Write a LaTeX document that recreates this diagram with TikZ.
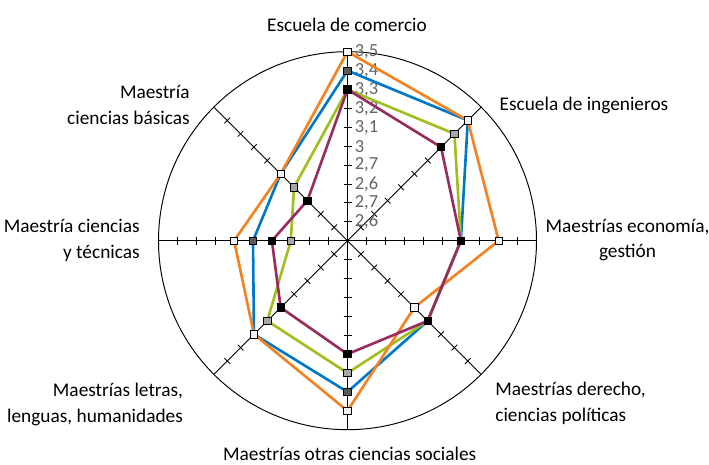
\documentclass[tikz,border=0pt]{standalone}
\usepackage{fontspec}
\setmainfont{Carlito}

\definecolor{serblue}{RGB}{0,120,200}
\definecolor{sergreen}{RGB}{158,192,30}
\definecolor{serorange}{RGB}{245,130,32}
\definecolor{serpurple}{RGB}{152,44,94}
\definecolor{valgray}{RGB}{100,100,100}
\definecolor{mkdark}{RGB}{90,90,90}
\definecolor{mkmid}{RGB}{166,166,166}
\definecolor{mklight}{RGB}{242,242,242}

\newcommand{\tk}{18.9}

\tikzset{
  axisline/.style={black,line width=0.55pt},
  tickmark/.style={black,line width=0.5pt},
  serline/.style={line width=1.5pt,line join=miter},
  mk/.style={draw=black,line width=0.4pt,shape=rectangle,minimum size=4.2pt,inner sep=0pt},
  vallabel/.style={anchor=west,text=valgray,font=\fontsize{10.5}{12}\selectfont,inner sep=0pt},
  catlabel/.style={font=\fontsize{11}{14.6}\selectfont,inner sep=0pt}
}

\begin{document}
\begin{tikzpicture}[x=0.02cm,y=0.02cm]
  \useasboundingbox (-347.5,-223.3) rectangle (361.5,240.7);

  % Specification of the axes (ends on the circle)
  \coordinate (c) at (0,0);
  \coordinate (a0) at (90:10*\tk);
  \coordinate (a1) at (45:10*\tk);
  \coordinate (a2) at (0:10*\tk);
  \coordinate (a3) at (-45:10*\tk);
  \coordinate (a4) at (-90:10*\tk);
  \coordinate (a5) at (-135:10*\tk);
  \coordinate (a6) at (180:10*\tk);
  \coordinate (a7) at (135:10*\tk);

  \draw[axisline] (c) circle (10*\tk);
  \draw[axisline] (a0) -- (a4);
  \draw[axisline] (a1) -- (a5);
  \draw[axisline] (a2) -- (a6);
  \draw[axisline] (a3) -- (a7);

  \foreach \ang in {0,45,...,315}
    \foreach \k in {1,...,9}
      \draw[tickmark,rotate=\ang] (\k*\tk,-4) -- (\k*\tk,4);

  % Values along the top axis
  \node[vallabel] (v1) at (7,1*\tk) {2,6};
  \node[vallabel] (v2) at (7,2*\tk) {2,7};
  \node[vallabel] (v3) at (7,3*\tk) {2,6};
  \node[vallabel] (v4) at (7,4*\tk) {2,7};
  \node[vallabel] (v5) at (7,5*\tk) {3};
  \node[vallabel] (v6) at (7,6*\tk) {3,1};
  \node[vallabel] (v7) at (7,7*\tk) {3,2};
  \node[vallabel] (v8) at (7,8*\tk) {3,3};
  \node[vallabel] (v9) at (7,9*\tk) {3,4};
  \node[vallabel] (v10) at (7,10*\tk) {3,5};

  % Categories
  \node[catlabel] (comercio) at (-0.5,215.7) {Escuela de comercio};
  \node[catlabel,anchor=west] (ingenieros) at (151.8,135.7) {Escuela de ingenieros};
  \node[catlabel,align=center] (economia) at (280,0.7) {Maestrías economía,\\gestión};
  \node[catlabel,anchor=west,align=left] (derecho) at (147.5,-162.6) {Maestrías derecho,\\ciencias políticas};
  \node[catlabel] (sociales) at (2.2,-213.5) {Maestrías otras ciencias sociales};
  \node[catlabel,anchor=east,align=right] (letras) at (-164.2,-163.5) {Maestrías letras,\\lenguas, humanidades};
  \node[catlabel,anchor=east,align=right] (tecnicas) at (-207.5,0) {Maestría ciencias\\y técnicas};
  \node[catlabel,anchor=east,align=right] (basicas) at (-157.5,136) {Maestría\\ciencias básicas};

  % Data points
  \coordinate (bl0) at (90:9*\tk);
  \coordinate (bl1) at (45:9*\tk);
  \coordinate (bl2) at (0:6*\tk);
  \coordinate (bl3) at (-45:6*\tk);
  \coordinate (bl4) at (-90:8*\tk);
  \coordinate (bl5) at (-135:7*\tk);
  \coordinate (bl6) at (180:5*\tk);
  \coordinate (bl7) at (135:5*\tk);

  \coordinate (gr0) at (90:8*\tk);
  \coordinate (gr1) at (45:8*\tk);
  \coordinate (gr2) at (0:6*\tk);
  \coordinate (gr3) at (-45:6*\tk);
  \coordinate (gr4) at (-90:7*\tk);
  \coordinate (gr5) at (-135:6*\tk);
  \coordinate (gr6) at (180:3*\tk);
  \coordinate (gr7) at (135:4*\tk);

  \coordinate (or0) at (90:10*\tk);
  \coordinate (or1) at (45:9*\tk);
  \coordinate (or2) at (0:8*\tk);
  \coordinate (or3) at (-45:5*\tk);
  \coordinate (or4) at (-90:9*\tk);
  \coordinate (or5) at (-135:7*\tk);
  \coordinate (or6) at (180:6*\tk);
  \coordinate (or7) at (135:5*\tk);

  \coordinate (pu0) at (90:8*\tk);
  \coordinate (pu1) at (45:7*\tk);
  \coordinate (pu2) at (0:6*\tk);
  \coordinate (pu3) at (-45:6*\tk);
  \coordinate (pu4) at (-90:6*\tk);
  \coordinate (pu5) at (-135:5*\tk);
  \coordinate (pu6) at (180:4*\tk);
  \coordinate (pu7) at (135:3*\tk);

  % Series, one after another
  \draw[serline,serblue] (bl0) -- (bl1) -- (bl2) -- (bl3) -- (bl4) -- (bl5) -- (bl6) -- (bl7) -- cycle;
  \foreach \i in {0,...,7} \node[mk,fill=mkdark] (mbl\i) at (bl\i) {};

  \draw[serline,sergreen] (gr0) -- (gr1) -- (gr2) -- (gr3) -- (gr4) -- (gr5) -- (gr6) -- (gr7) -- cycle;
  \foreach \i in {0,...,7} \node[mk,fill=mkmid] (mgr\i) at (gr\i) {};

  \draw[serline,serorange] (or0) -- (or1) -- (or2) -- (or3) -- (or4) -- (or5) -- (or6) -- (or7) -- cycle;
  \foreach \i in {0,...,7} \node[mk,fill=mklight] (mor\i) at (or\i) {};

  \draw[serline,serpurple] (pu0) -- (pu1) -- (pu2) -- (pu3) -- (pu4) -- (pu5) -- (pu6) -- (pu7) -- cycle;
  \foreach \i in {0,...,7} \node[mk,fill=black] (mpu\i) at (pu\i) {};

\end{tikzpicture}
\end{document}
